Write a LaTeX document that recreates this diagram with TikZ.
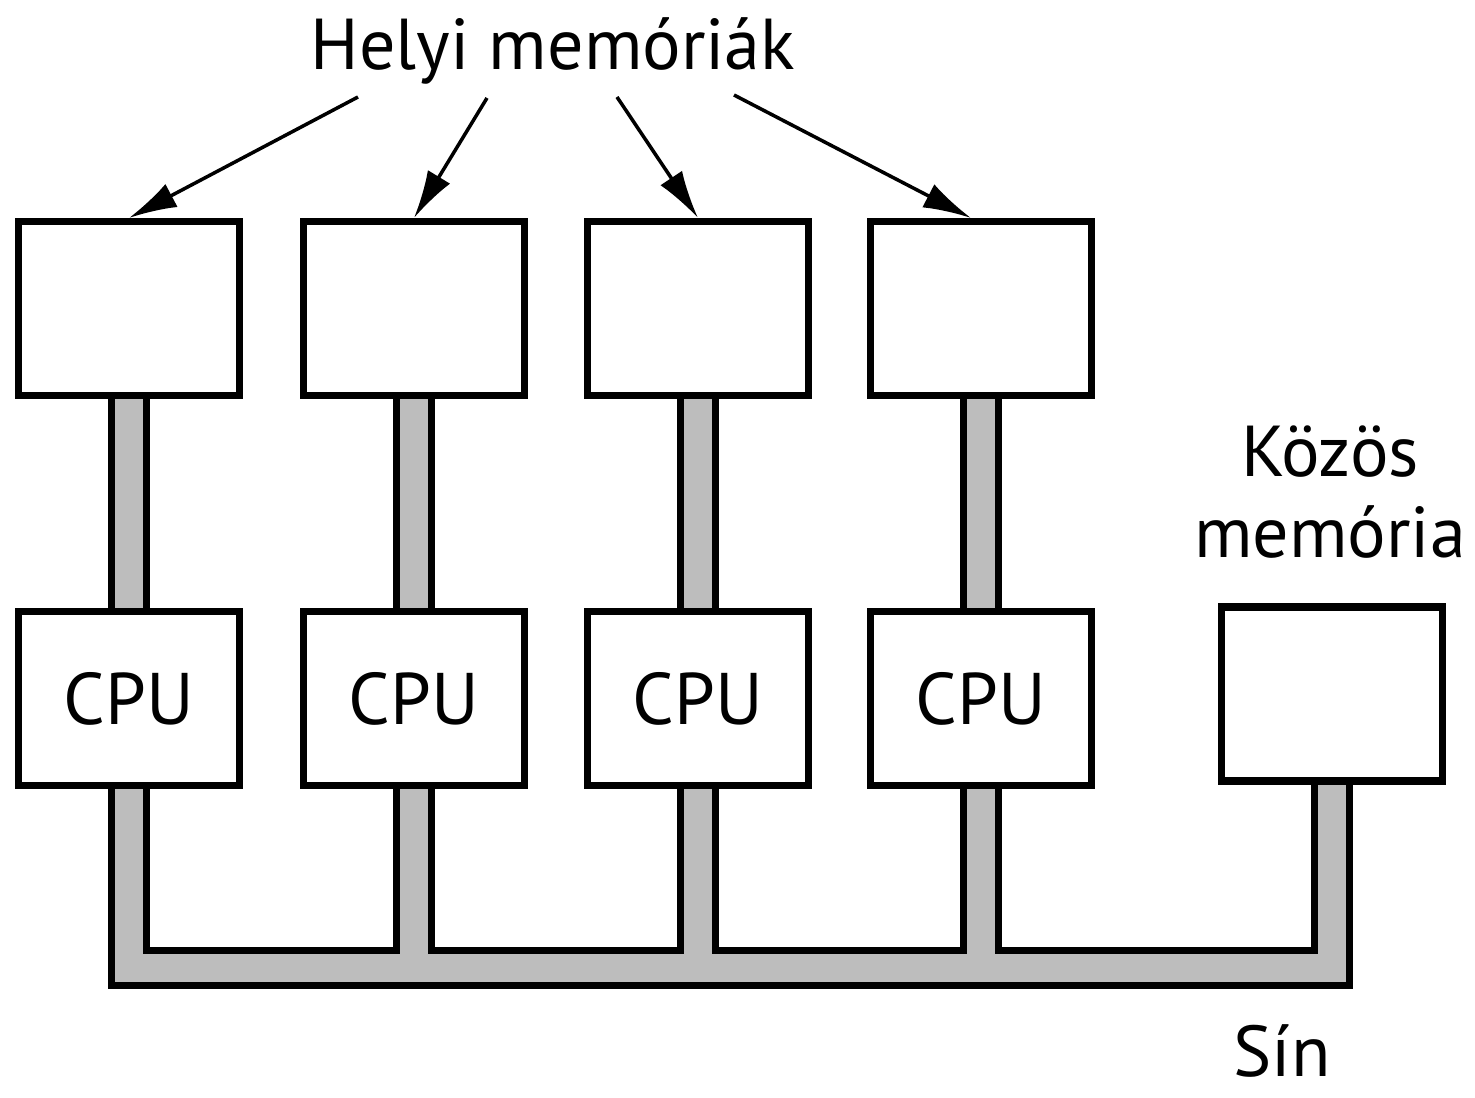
\documentclass[tikz,border=0pt]{standalone}
\usepackage{fontspec}
\setmainfont{PT Sans}
\usepackage{xcolor}
\definecolor{busgray}{gray}{0.74}
\usetikzlibrary{arrows.meta, positioning, backgrounds}

\begin{document}
\begin{tikzpicture}[
	unit/.style={rectangle, draw=black, fill=white, line width=2pt,
	             minimum width=2.21cm, minimum height=1.74cm, inner sep=0pt,
	             font=\fontsize{20.8}{24}\selectfont},
	lbl/.style={font=\fontsize{20.5}{23}\selectfont, inner sep=0pt, align=center},
	arr/.style={-{Latex[length=4.8mm, width=2.6mm]}, draw=black, line width=1pt},
	busout/.style={draw=black, line width=4.2mm},
	busin/.style={draw=busgray, line width=2.8mm}
	]
\useasboundingbox (0,0) rectangle (14.75,-10.98);

% Helyi memoriak
\node[unit] (mem1) at (1.29,-3.085) {};
\node[unit] (mem2) at (4.14,-3.085) {};
\node[unit] (mem3) at (6.98,-3.085) {};
\node[unit] (mem4) at (9.81,-3.085) {};

% CPU-k es a kozos memoria
\node[unit] (cpu1) at (1.29,-6.985) {CPU};
\node[unit] (cpu2) at (4.14,-6.985) {CPU};
\node[unit] (cpu3) at (6.98,-6.985) {CPU};
\node[unit] (cpu4) at (9.81,-6.985) {CPU};
\node[unit] (shmem) at (13.32,-6.94) {};

% Feliratok
\node[lbl, anchor=base] (helyi) at (5.53,-0.70) {Helyi memóriák};
\node[lbl] (kozos) at (13.30,-4.92) {Közös\\memória};
\node[lbl, anchor=base] (sin) at (12.82,-10.76) {Sín};

% Nyilak a helyi memoriakhoz
\coordinate (h1) at (3.58,-0.97);
\coordinate (h2) at (4.87,-0.98);
\coordinate (h3) at (6.17,-0.97);
\coordinate (h4) at (7.42,-0.95);
\coordinate (busL) at (0,-9.68);
\draw[arr] (h1) -- (mem1.north);
\draw[arr] (h2) -- (mem2.north);
\draw[arr] (h3) -- (mem3.north);
\draw[arr] ([xshift=-0.8mm]h4) -- ([xshift=-1mm]mem4.north);

% Sin
\begin{scope}[on background layer]
\foreach \s in {busout,busin} {
	\draw[\s] (mem1) -- (cpu1);
	\draw[\s] (mem2) -- (cpu2);
	\draw[\s] (mem3) -- (cpu3);
	\draw[\s] (mem4) -- (cpu4);
	\draw[\s] (cpu1.south) -- (cpu1.south |- busL) -- (shmem.south |- busL) -- (shmem.south);
	\draw[\s] (cpu2.south) -- (cpu2.south |- busL);
	\draw[\s] (cpu3.south) -- (cpu3.south |- busL);
	\draw[\s] (cpu4.south) -- (cpu4.south |- busL);
}
\end{scope}

\end{tikzpicture}
\end{document}
